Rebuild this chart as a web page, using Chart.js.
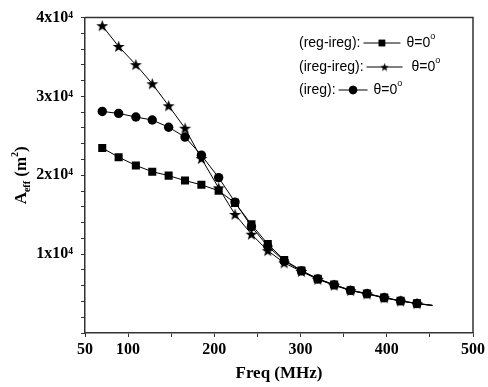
<!DOCTYPE html>
<html><head><meta charset="utf-8">
<script src="https://cdn.jsdelivr.net/npm/chart.js@4/dist/chart.umd.min.js"></script>
<style>html,body{margin:0;padding:0;background:#fff}#wrap{width:488px;height:387px}</style>
</head><body><div id="wrap"><canvas id="c" width="488" height="387"></canvas></div>
<script>
// ---- data ----
const freqMHz  = [70, 89, 109, 128, 147, 166, 185, 205, 224, 243, 262, 281, 301, 320, 339, 358, 377, 397, 416, 435, 453];
const regIreg  = [23470, 22300, 21250, 20460, 19960, 19330, 18790, 18040, 16500, 13780, 11280, 9270, 7930, 6890, 6140, 5430, 5010, 4510, 4090, 3760, 3510];
const iregIreg = [38970, 36340, 34030, 31610, 28820, 25970, 22130, 18400, 15040, 12530, 10440, 8900, 7800, 6800, 6050, 5380, 4950, 4460, 4050, 3720, 3480];
const ireg     = [28100, 27850, 27390, 27010, 26100, 24850, 22550, 19710, 16600, 13500, 11000, 9150, 7880, 6850, 6100, 5400, 4980, 4480, 4070, 3740, 3500];
const seriesNames = ['(reg-ireg):', '(ireg-ireg):', '(ireg):'];
const legendSuffix = 'θ=0';
const xTickLabels = {50:'50', 100:'100', 200:'200', 300:'300', 400:'400', 500:'500'};
const yTickLabels = {10000:'1x10⁴', 20000:'2x10⁴', 30000:'3x10⁴', 40000:'4x10⁴'};
const xTitle = 'Freq (MHz)';

// star marker image
function makeStar(size, outer, inner) {
  const c = document.createElement('canvas');
  c.width = size; c.height = size;
  const g = c.getContext('2d');
  g.fillStyle = '#000';
  g.beginPath();
  for (let i = 0; i < 10; i++) {
    const r = i % 2 ? inner : outer;
    const a = -Math.PI / 2 + i * Math.PI / 5;
    const px = size / 2 + r * Math.cos(a), py = size / 2 + r * Math.sin(a) + 0.5;
    i ? g.lineTo(px, py) : g.moveTo(px, py);
  }
  g.closePath(); g.fill();
  return c;
}
const starImg = makeStar(13, 6.3, 2.6);
const starImgSmall = makeStar(9, 4.4, 1.8);

const toXY = arr => arr.map((v, i) => ({x: freqMHz[i], y: v}));
const lastIdx = freqMHz.length - 1;
function mk(label, arr, style, r) {
  return {
    label, data: toXY(arr), borderColor: '#000', backgroundColor: '#000',
    borderWidth: 1, pointStyle: style, pointBorderColor: '#000', pointBackgroundColor: '#000',
    pointRadius: ctx => ctx.dataIndex === lastIdx ? 0 : r, pointBorderWidth: 0,
    tension: 0, fill: false
  };
}
const markerStyles = [{s:'rect', r:5.7}, {s:starImg, r:6}, {s:'circle', r:4.7}];
const legendMarkers = [{s:'rect', r:4.6}, {s:starImgSmall, r:4.5}, {s:'circle', r:4.2}];

const overlay = {
  id: 'overlay',
  afterDraw(chart) {
    const ctx = chart.ctx, a = chart.chartArea;
    ctx.save();
    // frame top & right
    ctx.strokeStyle = '#333'; ctx.lineWidth = 1.5;
    ctx.beginPath();
    ctx.moveTo(a.left, a.top); ctx.lineTo(a.right, a.top); ctx.lineTo(a.right, a.bottom);
    ctx.stroke();

    // y title: A_eff (m^2)
    ctx.translate(26, (a.top + a.bottom) / 2);
    ctx.rotate(-Math.PI / 2);
    ctx.fillStyle = '#000';
    ctx.textBaseline = 'alphabetic';
    const big = 'bold 17px "Liberation Serif", serif', small = 'bold 10px "Liberation Serif", serif';
    const parts = [['A', big, 0], ['eff', small, 4], [' (m', big, 0], ['2', small, -8], [')', big, 0]];
    let w = 0;
    parts.forEach(p => { ctx.font = p[1]; w += ctx.measureText(p[0]).width; });
    let x = -w / 2;
    parts.forEach(p => { ctx.font = p[1]; ctx.fillText(p[0], x, p[2]); x += ctx.measureText(p[0]).width; });
    ctx.restore();

    // legend
    ctx.save();
    ctx.fillStyle = '#000'; ctx.strokeStyle = '#000'; ctx.lineWidth = 1;
    ctx.textBaseline = 'middle';
    const rows = [43, 67, 90];
    const lineLens = [37, 36, 29];
    rows.forEach((y, i) => {
      ctx.font = '14px "Liberation Sans", Arial, sans-serif';
      let tx = 299;
      ctx.fillText(seriesNames[i], tx, y);
      tx += ctx.measureText(seriesNames[i]).width + 3;
      const L = lineLens[i];
      ctx.beginPath(); ctx.moveTo(tx, y); ctx.lineTo(tx + L, y); ctx.stroke();
      const m = legendMarkers[i];
      Chart.helpers.drawPoint(ctx, {pointStyle: m.s, radius: m.r, rotation: 0, borderWidth: 0}, tx + L / 2, y);
      ctx.fill();
      tx += L + (i === 1 ? 9 : 6);
      ctx.font = '14px "Liberation Sans", Arial, sans-serif';
      ctx.fillText(legendSuffix, tx, y);
      tx += ctx.measureText(legendSuffix).width;
      ctx.font = '9px "Liberation Sans", Arial, sans-serif';
      ctx.fillText('o', tx, y - 6);
    });
    ctx.restore();
  }
};

const tickFont = {family: '"Liberation Serif", "Times New Roman", serif', size: 16, weight: 'bold'};
new Chart(document.getElementById('c'), {
  type: 'line',
  data: {
    datasets: [
      mk(seriesNames[0], regIreg, markerStyles[0].s, markerStyles[0].r),
      mk(seriesNames[1], iregIreg, markerStyles[1].s, markerStyles[1].r),
      mk(seriesNames[2], ireg, markerStyles[2].s, markerStyles[2].r)
    ]
  },
  options: {
    responsive: false, devicePixelRatio: 1, animation: false,
    layout: {padding: {left: 0, right: 11, top: 14, bottom: 0}},
    plugins: {legend: {display: false}, tooltip: {enabled: false}},
    scales: {
      x: {
        type: 'linear', min: 50, max: 500,
        ticks: {stepSize: 50, autoSkip: false, maxRotation: 0, color: '#000', font: tickFont, padding: 3,
          callback: v => xTickLabels[v] ?? ''},
        grid: {drawOnChartArea: false, drawTicks: true, tickLength: 4, color: '#333', tickWidth: 1},
        border: {color: '#333', width: 1.5},
        title: {display: true, text: xTitle, color: '#000', font: {family: tickFont.family, size: 17, weight: 'bold'}, padding: {top: 0, bottom: 3}},
        afterFit: s => { s.height = 54; }
      },
      y: {
        min: 0, max: 40000,
        ticks: {stepSize: 2000, autoSkip: false, color: '#000', font: tickFont, padding: 8,
          callback: v => yTickLabels[v] ?? ''},
        grid: {drawOnChartArea: false, drawTicks: true, tickLength: 4, color: '#333', tickWidth: 1},
        border: {color: '#333', width: 1.5},
        afterFit: s => { s.width = 85; }
      }
    }
  },
  plugins: [overlay]
});
</script>
</body></html>
